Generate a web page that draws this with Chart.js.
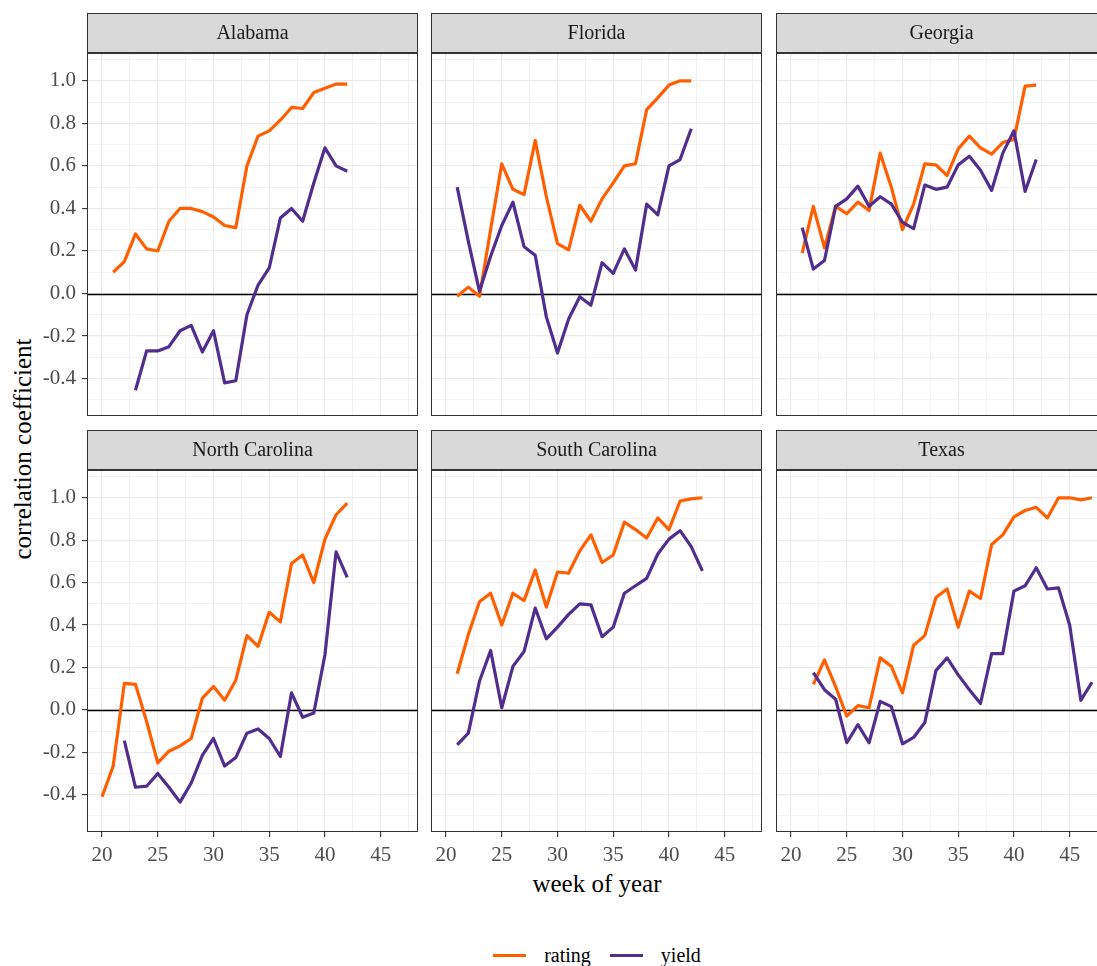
<!DOCTYPE html>
<html>
<head>
<meta charset="utf-8">
<title>Correlation by week of year</title>
<script src="https://cdn.jsdelivr.net/npm/chart.js@4.4.1/dist/chart.umd.min.js"></script>
<style>
  html, body { margin: 0; padding: 0; background: #fff; width: 1097px; height: 966px; overflow: hidden; }
  body { position: relative; font-family: 'Liberation Serif', serif; }
  canvas.panel { position: absolute; }
  .axis-title { position: absolute; font-size: 25px; color: #000; white-space: nowrap; line-height: 1; }
  #xTitle { left: 597px; top: 883px; transform: translate(-50%, -50%); }
  #yTitle { left: 22px; top: 449px; transform: translate(-50%, -50%) rotate(-90deg); }
  #legend { position: absolute; left: 87px; width: 1020px; top: 944px; height: 22px; display: flex; justify-content: center; align-items: center; font-size: 20px; color: #000; }
  .legend-key { width: 33px; height: 3px; margin-right: 18px; }
  .legend-label { margin-right: 19px; }
  .legend-label:last-child { margin-right: 0; }
</style>
</head>
<body>
<div id="xTitle" class="axis-title">week of year</div>
<div id="yTitle" class="axis-title">correlation coefficient</div>
<div id="legend"></div>

<script>
// ---- data ----
const WEEKS = [20, 21, 22, 23, 24, 25, 26, 27, 28, 29, 30, 31, 32, 33, 34, 35, 36, 37, 38, 39, 40, 41, 42, 43, 44, 45, 46, 47];
const STATES = ['Alabama', 'Florida', 'Georgia', 'North Carolina', 'South Carolina', 'Texas'];
const SERIES = ['rating', 'yield'];
const SERIES_COLORS = ['#FF5F00', '#512D8E'];

const X_TICKS = [20, 22.5, 25, 27.5, 30, 32.5, 35, 37.5, 40, 42.5, 45, 47.5];
const Y_TICKS = [-0.5, -0.4, -0.3, -0.2, -0.1, 0, 0.1, 0.2, 0.3, 0.4, 0.5, 0.6, 0.7, 0.8, 0.9, 1.0, 1.1];

// one value per entry of WEEKS, null where the state has no estimate
const alabamaRating = [null, 0.10, 0.15, 0.28, 0.21, 0.20, 0.34, 0.40, 0.40, 0.385, 0.36, 0.32, 0.31, 0.60, 0.74, 0.765, 0.815, 0.875, 0.87, 0.945, 0.965, 0.985, 0.985, null, null, null, null, null];
const alabamaYield = [null, null, null, -0.455, -0.27, -0.27, -0.25, -0.175, -0.15, -0.275, -0.175, -0.42, -0.41, -0.10, 0.04, 0.12, 0.355, 0.40, 0.34, 0.52, 0.685, 0.60, 0.575, null, null, null, null, null];

const floridaRating = [null, -0.013, 0.03, -0.013, 0.30, 0.61, 0.49, 0.465, 0.72, 0.455, 0.235, 0.205, 0.415, 0.34, 0.445, 0.52, 0.60, 0.61, 0.865, 0.92, 0.98, 1.0, 1.0, null, null, null, null, null];
const floridaYield = [null, 0.50, 0.245, 0.01, 0.175, 0.32, 0.43, 0.22, 0.18, -0.11, -0.28, -0.12, -0.015, -0.055, 0.145, 0.095, 0.21, 0.11, 0.42, 0.37, 0.60, 0.63, 0.775, null, null, null, null, null];

const georgiaRating = [null, 0.19, 0.41, 0.215, 0.41, 0.375, 0.43, 0.39, 0.66, 0.50, 0.30, 0.42, 0.61, 0.605, 0.555, 0.68, 0.74, 0.685, 0.655, 0.71, 0.725, 0.975, 0.98, null, null, null, null, null];
const georgiaYield = [null, 0.31, 0.115, 0.155, 0.41, 0.445, 0.505, 0.41, 0.455, 0.42, 0.335, 0.305, 0.51, 0.49, 0.50, 0.605, 0.645, 0.58, 0.485, 0.66, 0.765, 0.48, 0.63, null, null, null, null, null];

const northCarolinaRating = [-0.41, -0.265, 0.125, 0.12, -0.055, -0.25, -0.195, -0.17, -0.135, 0.055, 0.11, 0.045, 0.14, 0.35, 0.30, 0.46, 0.415, 0.69, 0.73, 0.60, 0.805, 0.92, 0.975, null, null, null, null, null];
const northCarolinaYield = [null, null, -0.145, -0.365, -0.36, -0.30, -0.365, -0.435, -0.345, -0.215, -0.135, -0.265, -0.225, -0.11, -0.09, -0.135, -0.22, 0.08, -0.035, -0.015, 0.26, 0.745, 0.625, null, null, null, null, null];

const southCarolinaRating = [null, 0.17, 0.355, 0.51, 0.55, 0.40, 0.55, 0.515, 0.66, 0.485, 0.65, 0.645, 0.75, 0.825, 0.695, 0.73, 0.885, 0.85, 0.81, 0.905, 0.85, 0.985, 0.995, 1.0, null, null, null, null];
const southCarolinaYield = [null, -0.165, -0.11, 0.135, 0.28, 0.01, 0.205, 0.275, 0.48, 0.335, 0.39, 0.45, 0.50, 0.495, 0.345, 0.39, 0.55, 0.585, 0.62, 0.735, 0.805, 0.845, 0.77, 0.655, null, null, null, null];

const texasRating = [null, null, 0.12, 0.235, 0.11, -0.03, 0.02, 0.01, 0.245, 0.205, 0.08, 0.305, 0.35, 0.53, 0.57, 0.39, 0.56, 0.525, 0.78, 0.825, 0.91, 0.94, 0.955, 0.905, 1.0, 1.0, 0.99, 1.0];
const texasYield = [null, null, 0.175, 0.095, 0.05, -0.155, -0.07, -0.155, 0.04, 0.015, -0.16, -0.13, -0.06, 0.185, 0.245, 0.165, 0.095, 0.03, 0.265, 0.265, 0.56, 0.585, 0.67, 0.57, 0.575, 0.40, 0.045, 0.13];

const STATE_SERIES = {
    'Alabama': [alabamaRating, alabamaYield],
    'Florida': [floridaRating, floridaYield],
    'Georgia': [georgiaRating, georgiaYield],
    'North Carolina': [northCarolinaRating, northCarolinaYield],
    'South Carolina': [southCarolinaRating, southCarolinaYield],
    'Texas': [texasRating, texasYield]
};

// ---- facet layout (page pixels) ----
const PANEL_X = [87, 431, 776];
const PANEL_W = 331;
const STRIP_TOP = [13, 430];
const PANEL_TOP = [53, 470];
const PANEL_BOTTOM = [416, 832];
const X_AXIS_H = 38;
const X_RANGE = [18.65, 48.35];
const Y_RANGE = [-0.576, 1.131];

const GRID_COLOR = '#EBEBEB';
const FRAME_COLOR = '#333333';
const FONT = 'Liberation Serif';

Chart.defaults.font.family = FONT;

function isMajorX(v) { return Math.abs(v % 5) < 1e-6; }
function isMajorY(v) { return Math.abs(v * 5 - Math.round(v * 5)) < 1e-6; }

// keep tick labels from shrinking the plot area, every panel gets the same size
function lockPadding(scale) {
    scale.paddingTop = 0;
    scale.paddingBottom = 0;
    scale.paddingLeft = 0;
    scale.paddingRight = 0;
}

// grey strip with the state name, panel border and the y = 0 reference line
const facetDecor = {
    id: 'facetDecor',
    beforeDatasetsDraw(chart) {
        const { ctx, chartArea, scales } = chart;
        const y0 = Math.round(scales.y.getPixelForValue(0)) + 0.5;
        ctx.save();
        ctx.strokeStyle = '#000';
        ctx.lineWidth = 1.4;
        ctx.beginPath();
        ctx.moveTo(chartArea.left, y0);
        ctx.lineTo(chartArea.right, y0);
        ctx.stroke();
        ctx.restore();
    },
    afterDraw(chart, args, opts) {
        const { ctx, chartArea } = chart;
        const l = chartArea.left + 0.5;
        const w = chartArea.right - chartArea.left - 1;
        ctx.save();
        ctx.strokeStyle = FRAME_COLOR;
        ctx.lineWidth = 1;
        ctx.strokeRect(l, chartArea.top + 0.5, w, chartArea.bottom - chartArea.top - 1);

        const sTop = opts.stripTop + 0.5;
        const sH = chartArea.top - opts.stripTop;
        ctx.fillStyle = '#D9D9D9';
        ctx.fillRect(l, sTop, w, sH);
        ctx.strokeRect(l, sTop, w, sH);
        ctx.lineWidth = 2;
        ctx.beginPath();
        ctx.moveTo(chartArea.left, chartArea.top);
        ctx.lineTo(chartArea.right, chartArea.top);
        ctx.stroke();

        ctx.fillStyle = '#1A1A1A';
        ctx.font = '20px "' + FONT + '"';
        ctx.textAlign = 'center';
        ctx.textBaseline = 'middle';
        ctx.fillText(opts.title, (chartArea.left + chartArea.right) / 2, opts.stripTop + sH / 2 + 1);
        ctx.restore();
    }
};

function renderPanel(state, index) {
    const row = Math.floor(index / 3);
    const col = index % 3;
    const left = col === 0 ? 0 : PANEL_X[col] - 4;
    const top = STRIP_TOP[row] - 2;
    const width = PANEL_X[col] + PANEL_W + 4 - left;
    const bottom = row === 1 ? PANEL_BOTTOM[row] + X_AXIS_H : PANEL_BOTTOM[row] + 4;
    const height = bottom - top;

    const canvas = document.createElement('canvas');
    canvas.className = 'panel';
    canvas.width = width;
    canvas.height = height;
    canvas.style.left = left + 'px';
    canvas.style.top = top + 'px';
    document.body.appendChild(canvas);

    const showX = row === 1;
    const showY = col === 0;

    const datasets = SERIES.map((name, i) => ({
        label: name,
        data: WEEKS.map((w, k) => ({ x: w, y: STATE_SERIES[state][i][k] })),
        borderColor: SERIES_COLORS[i],
        borderWidth: 3.2,
        borderCapStyle: 'butt',
        borderJoinStyle: 'round',
        pointRadius: 0,
        tension: 0,
        fill: false,
        order: 1 - i
    }));

    new Chart(canvas.getContext('2d'), {
        type: 'line',
        data: { datasets },
        options: {
            responsive: false,
            animation: false,
            devicePixelRatio: 1,
            events: [],
            layout: {
                padding: {
                    top: PANEL_TOP[row] - top,
                    left: showY ? 0 : 4,
                    right: 4,
                    bottom: showX ? 0 : 4
                }
            },
            plugins: {
                legend: { display: false },
                tooltip: { enabled: false },
                facetDecor: { title: state, stripTop: STRIP_TOP[row] - top }
            },
            scales: {
                x: {
                    type: 'linear',
                    min: X_RANGE[0],
                    max: X_RANGE[1],
                    afterBuildTicks: scale => { scale.ticks = X_TICKS.map(v => ({ value: v })); },
                    afterFit: scale => { scale.height = showX ? X_AXIS_H : 0; lockPadding(scale); },
                    border: { display: false },
                    grid: {
                        color: GRID_COLOR,
                        lineWidth: ctx => isMajorX(ctx.tick.value) ? 1.2 : 0.6,
                        drawTicks: showX,
                        tickLength: 5,
                        tickWidth: 1.1,
                        tickColor: ctx => isMajorX(ctx.tick.value) ? FRAME_COLOR : 'rgba(0,0,0,0)'
                    },
                    ticks: {
                        display: showX,
                        autoSkip: false,
                        maxRotation: 0,
                        padding: 6,
                        color: '#4D4D4D',
                        font: { size: 21, family: FONT },
                        callback: v => isMajorX(v) ? String(v) : ''
                    }
                },
                y: {
                    type: 'linear',
                    min: Y_RANGE[0],
                    max: Y_RANGE[1],
                    afterBuildTicks: scale => { scale.ticks = Y_TICKS.map(v => ({ value: v })); },
                    afterFit: scale => { scale.width = showY ? PANEL_X[0] - left : 0; lockPadding(scale); },
                    border: { display: false },
                    grid: {
                        color: GRID_COLOR,
                        lineWidth: ctx => isMajorY(ctx.tick.value) ? 1.2 : 0.6,
                        drawTicks: showY,
                        tickLength: 5,
                        tickWidth: 1.1,
                        tickColor: ctx => isMajorY(ctx.tick.value) ? FRAME_COLOR : 'rgba(0,0,0,0)'
                    },
                    ticks: {
                        display: showY,
                        autoSkip: false,
                        padding: 6,
                        color: '#4D4D4D',
                        font: { size: 21, family: FONT },
                        callback: v => isMajorY(v) ? v.toFixed(1) : ''
                    }
                }
            }
        },
        plugins: [facetDecor]
    });
}

function renderLegend() {
    const legend = document.getElementById('legend');
    SERIES.forEach((name, i) => {
        const key = document.createElement('span');
        key.className = 'legend-key';
        key.style.background = SERIES_COLORS[i];
        const label = document.createElement('span');
        label.className = 'legend-label';
        label.textContent = name;
        legend.appendChild(key);
        legend.appendChild(label);
    });
}

STATES.forEach(renderPanel);
renderLegend();
</script>
</body>
</html>
